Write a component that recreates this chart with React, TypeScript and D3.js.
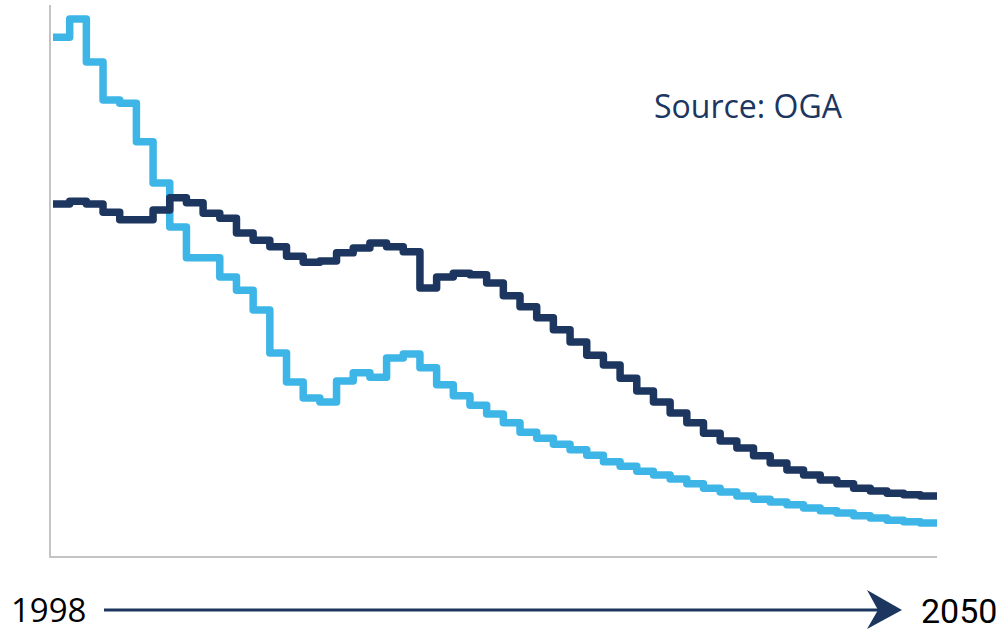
import React from "react";
import * as d3 from "d3";

// one value per year, 1998..2050
const years = d3.range(1998, 2051);

const lightSeries = [
  94.5, 97.8, 90.0, 83.1, 82.5, 75.5, 68.0, 60.0, 54.4, 54.4,
  50.9, 48.5, 44.9, 37.1, 31.8, 28.9, 28.2, 32.0, 33.5, 32.7,
  36.2, 36.9, 34.4, 31.3, 29.3, 27.6, 26.0, 24.4, 22.7, 21.6,
  20.5, 19.5, 18.5, 17.3, 16.5, 15.6, 14.9, 14.2, 13.3, 12.5,
  11.8, 11.1, 10.5, 10.0, 9.5, 8.9, 8.4, 8.0, 7.5, 7.1,
  6.7, 6.4, 6.2,
];

const darkSeries = [
  64.2, 64.7, 64.2, 62.7, 61.3, 61.3, 63.1, 65.3, 64.4, 62.5,
  61.6, 58.9, 57.6, 56.4, 54.7, 53.6, 53.8, 55.3, 56.2, 57.1,
  56.4, 55.5, 48.9, 50.9, 51.6, 51.3, 49.8, 47.5, 45.5, 43.5,
  41.3, 39.1, 36.7, 34.9, 32.5, 30.2, 28.2, 26.2, 24.4, 22.5,
  21.1, 19.8, 18.4, 17.1, 15.8, 14.9, 14.0, 13.3, 12.5, 12.0,
  11.6, 11.3, 11.1,
];

const startLabel = "1998";
const endLabel = "2050";
const sourceLabel = "Source: OGA";

const DARK = "#1c365f";
const LIGHT = "#3db5e6";

const App = () => {
  const width = 1003;
  const height = 629;
  const margin = { top: 7, right: 66, bottom: 72, left: 53 };

  const xScale = d3
    .scaleLinear()
    .domain([years[0], years[years.length - 1] + 1])
    .range([margin.left, width - margin.right]);
  const yScale = d3
    .scaleLinear()
    .domain([0, 100])
    .range([height - margin.bottom, margin.top]);

  // step-after: repeat the last value so the final year gets its full width
  const toPoints = (vals: number[]) => {
    const pts = vals.map((v, i) => [years[i], v] as [number, number]);
    pts.push([years[years.length - 1] + 1, vals[vals.length - 1]]);
    return pts;
  };

  const line = d3
    .line<[number, number]>()
    .x((d) => xScale(d[0]))
    .y((d) => yScale(d[1]))
    .curve(d3.curveStepAfter);

  const x0 = xScale.range()[0];
  const x1 = xScale.range()[1];
  const yBase = yScale(0);

  const arrowY = 610;

  return (
    <svg
      width={width}
      height={height}
      style={{ position: "absolute", left: 0, top: 0, background: "#fff" }}
    >
      {/* axes */}
      <line x1={x0 - 3} x2={x0 - 3} y1={5} y2={yBase} stroke="#c4c4c4" strokeWidth={2} />
      <line x1={x0 - 4} x2={x1} y1={yBase} y2={yBase} stroke="#c4c4c4" strokeWidth={2} />

      <path
        d={line(toPoints(lightSeries)) ?? ""}
        fill="none"
        stroke={LIGHT}
        strokeWidth={7.5}
        strokeLinejoin="round"
      />
      <path
        d={line(toPoints(darkSeries)) ?? ""}
        fill="none"
        stroke={DARK}
        strokeWidth={7.5}
        strokeLinejoin="round"
      />

      <text
        x={654}
        y={118}
        fill={DARK}
        fontFamily="'Open Sans', sans-serif"
        fontSize={32}
      >
        {sourceLabel}
      </text>

      {/* timeline arrow */}
      <line x1={104} x2={880} y1={arrowY} y2={arrowY} stroke={DARK} strokeWidth={3} />
      <path
        d={`M902,${arrowY} L867,${arrowY - 20} L878,${arrowY} L867,${arrowY + 19} Z`}
        fill={DARK}
      />
      <text
        x={11}
        y={622}
        fill="#000"
        fontFamily="'Open Sans', sans-serif"
        fontSize={33}
      >
        {startLabel}
      </text>
      <text
        x={921}
        y={623}
        fill="#000"
        fontFamily="Roboto, sans-serif"
        fontSize={34}
      >
        {endLabel}
      </text>
    </svg>
  );
};

export default App;
